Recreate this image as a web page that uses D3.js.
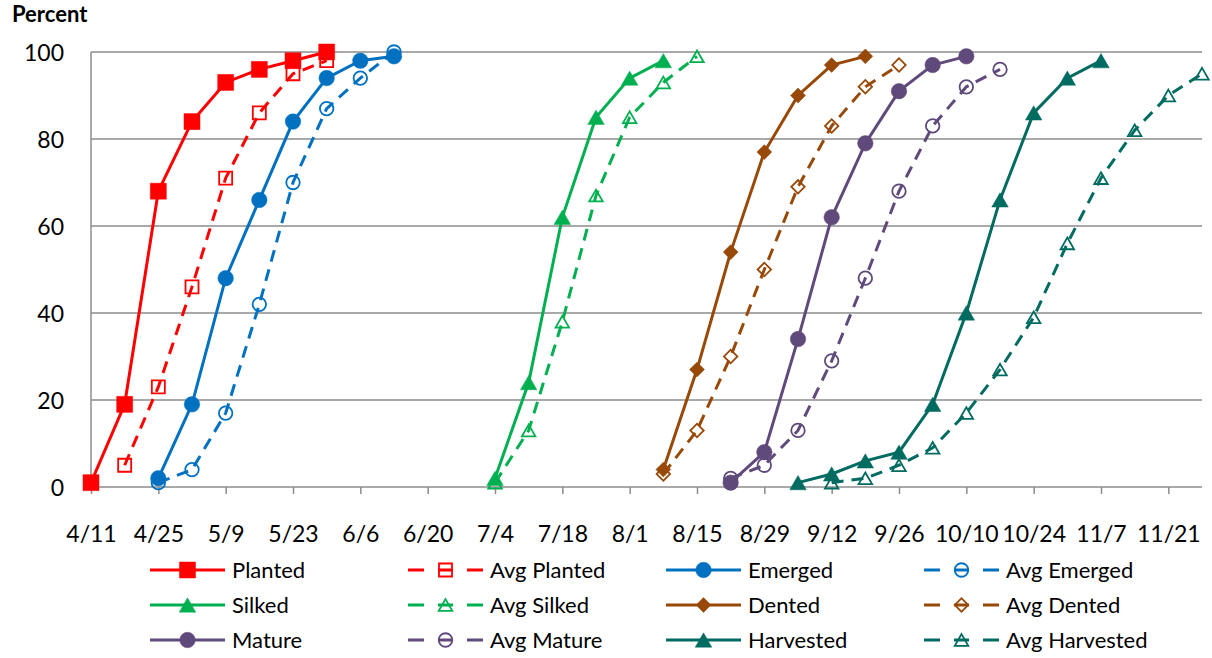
<!DOCTYPE html>
<html>
<head>
<meta charset="utf-8">
<script src="https://cdn.jsdelivr.net/npm/d3@7"></script>
<style>
  body { margin: 0; background: #fff; }
  text { font-family: Lato, "Open Sans", sans-serif; fill: #000; }
</style>
</head>
<body>
<div id="chart"></div>
<script>
// weekly report dates
var weeks = ["4/11","4/18","4/25","5/2","5/9","5/16","5/23","5/30","6/6","6/13","6/20","6/27",
             "7/4","7/11","7/18","7/25","8/1","8/8","8/15","8/22","8/29","9/5","9/12","9/19",
             "9/26","10/3","10/10","10/17","10/24","10/31","11/7","11/14","11/21","11/28"];
var tickLabels = ["4/11","4/25","5/9","5/23","6/6","6/20","7/4","7/18","8/1","8/15","8/29",
                  "9/12","9/26","10/10","10/24","11/7","11/21"];
var yTicks = [0, 20, 40, 60, 80, 100];

var _ = null;
// percent complete, aligned with weeks (null = no report)
var planted      = [1,19,68,84,93,96,98,100];
var avgPlanted   = [_,5,23,46,71,86,95,98];
var emerged      = [_,_,2,19,48,66,84,94,98,99];
var avgEmerged   = [_,_,1,4,17,42,70,87,94,100];
var silked       = [_,_,_,_,_,_,_,_,_,_,_,_,2,24,62,85,94,98];
var avgSilked    = [_,_,_,_,_,_,_,_,_,_,_,_,1,13,38,67,85,93,99];
var dented       = [_,_,_,_,_,_,_,_,_,_,_,_,_,_,_,_,_,4,27,54,77,90,97,99];
var avgDented    = [_,_,_,_,_,_,_,_,_,_,_,_,_,_,_,_,_,3,13,30,50,69,83,92,97];
var mature       = [_,_,_,_,_,_,_,_,_,_,_,_,_,_,_,_,_,_,_,1,8,34,62,79,91,97,99];
var avgMature    = [_,_,_,_,_,_,_,_,_,_,_,_,_,_,_,_,_,_,_,2,5,13,29,48,68,83,92,96];
var harvested    = [_,_,_,_,_,_,_,_,_,_,_,_,_,_,_,_,_,_,_,_,_,1,3,6,8,19,40,66,86,94,98];
var avgHarvested = [_,_,_,_,_,_,_,_,_,_,_,_,_,_,_,_,_,_,_,_,_,_,1,2,5,9,17,27,39,56,71,82,90,95];

var series = [
  {name: "Planted",        values: planted,      color: "#FF0000", avg: false, shape: "square"},
  {name: "Avg Planted",    values: avgPlanted,   color: "#FF0000", avg: true,  shape: "square"},
  {name: "Emerged",        values: emerged,      color: "#0070C0", avg: false, shape: "circle"},
  {name: "Avg Emerged",    values: avgEmerged,   color: "#0070C0", avg: true,  shape: "circle"},
  {name: "Silked",         values: silked,       color: "#00B050", avg: false, shape: "triangle"},
  {name: "Avg Silked",     values: avgSilked,    color: "#00B050", avg: true,  shape: "triangle"},
  {name: "Dented",         values: dented,       color: "#984807", avg: false, shape: "diamond"},
  {name: "Avg Dented",     values: avgDented,    color: "#984807", avg: true,  shape: "diamond"},
  {name: "Mature",         values: mature,       color: "#604A7B", avg: false, shape: "circle"},
  {name: "Avg Mature",     values: avgMature,    color: "#604A7B", avg: true,  shape: "circle"},
  {name: "Harvested",      values: harvested,    color: "#006B60", avg: false, shape: "triangle"},
  {name: "Avg Harvested",  values: avgHarvested, color: "#006B60", avg: true,  shape: "triangle"}
];

var W = 1212, H = 658;
var margin = {top: 52, right: 10, bottom: 171, left: 91};
var width = W - margin.left - margin.right,
    height = H - margin.top - margin.bottom;

var parse = function(s) { return d3.utcParse("%m/%d/%Y")(s + "/2019"); };

var svg = d3.select("#chart").append("svg")
    .attr("width", W).attr("height", H);
var g = svg.append("g")
    .attr("transform", "translate(" + margin.left + "," + margin.top + ")");

var x = d3.scaleUtc()
    .domain([parse("4/11"), parse("11/28")])
    .range([0, width]);
var y = d3.scaleLinear().domain([0, 100]).range([height, 0]);

// gridlines
g.append("g").selectAll("line")
    .data(yTicks).enter().append("line")
    .attr("x1", 0).attr("x2", width)
    .attr("y1", function(d) { return y(d); })
    .attr("y2", function(d) { return y(d); })
    .attr("stroke", "#8c8c8c").attr("stroke-width", 1.5);

// y axis line + labels
g.append("line").attr("x1", 0).attr("x2", 0).attr("y1", 0).attr("y2", height)
    .attr("stroke", "#8c8c8c").attr("stroke-width", 1.5);
g.append("g").selectAll("text")
    .data(yTicks).enter().append("text")
    .attr("x", -27).attr("y", function(d) { return y(d); })
    .attr("dy", "0.38em").attr("text-anchor", "end")
    .style("font-size", "23px")
    .text(function(d) { return d; });

// x axis
var xAxis = d3.axisBottom(x)
    .tickValues(tickLabels.map(parse))
    .tickSize(7)
    .tickFormat(function(d, i) { return tickLabels[i]; });
var xg = g.append("g").attr("transform", "translate(0," + height + ")").call(xAxis);
xg.select(".domain").remove();
xg.selectAll("line").attr("stroke", "#8c8c8c").attr("stroke-width", 1.5);
xg.selectAll("text").attr("y", 55).attr("dy", null)
    .attr("font-family", null).attr("font-size", null)
    .style("font-size", "23px");

// title
svg.append("text").attr("x", 12).attr("y", 22)
    .style("font-size", "22px").style("font-weight", "bold")
    .text("Percent");

// Excel-like markers: px sizes, hollow ones have no fill
function marker(sel, s) {
  var sym, dy = 0, rot = "";
  if (s.shape === "square") {
    var a = s.avg ? 13 : 16;
    sym = d3.symbol().type(d3.symbolSquare).size(a * a);
  } else if (s.shape === "circle") {
    var dmt = s.avg ? 13.5 : 15.5;
    sym = d3.symbol().type(d3.symbolCircle).size(Math.PI * dmt * dmt / 4);
  } else if (s.shape === "triangle") {
    var t = s.avg ? 13.5 : 16.5;
    sym = d3.symbol().type(d3.symbolTriangle).size(Math.sqrt(3) / 4 * t * t);
    dy = t * Math.sqrt(3) / 2 / 6;
  } else {
    var sd = s.avg ? 9.5 : 10.5;
    sym = d3.symbol().type(d3.symbolSquare).size(sd * sd);
    rot = " rotate(45)";
  }
  sel.attr("d", sym)
    .attr("transform", function() {
      return (d3.select(this).attr("transform") || "") + " translate(0," + dy + ")" + rot;
    })
    .attr("fill", s.avg ? "none" : s.color)
    .attr("stroke", s.color)
    .attr("stroke-width", s.avg ? 1.8 : 0.5);
}

var line = d3.line()
    .defined(function(d) { return d.v != null; })
    .x(function(d) { return x(d.date); })
    .y(function(d) { return y(d.v); });

series.forEach(function(s) {
  var pts = weeks.map(function(w, i) {
    return {date: parse(w), v: s.values[i] == null ? null : s.values[i]};
  });
  var sg = g.append("g");
  sg.append("path").datum(pts)
    .attr("fill", "none")
    .attr("stroke", s.color)
    .attr("stroke-width", 3)
    .attr("stroke-dasharray", s.avg ? "12,8" : null)
    .attr("d", line);
  sg.selectAll("path.pt")
    .data(pts.filter(function(d) { return d.v != null; }))
    .enter().append("path").attr("class", "pt")
    .attr("transform", function(d) { return "translate(" + x(d.date) + "," + y(d.v) + ")"; })
    .call(marker, s);
});

// legend
var colX = [150, 408, 666, 924], rowY = [570, 605, 640];
series.forEach(function(s, i) {
  var lx = colX[i % 4], ly = rowY[Math.floor(i / 4)];
  var lg = svg.append("g").attr("transform", "translate(" + lx + "," + ly + ")");
  lg.append("line").attr("x1", 0).attr("x2", 75).attr("y1", 0).attr("y2", 0)
    .attr("stroke", s.color).attr("stroke-width", 3)
    .attr("stroke-dasharray", s.avg ? "16,14,15,14,16" : null);
  lg.append("path").attr("transform", "translate(37.5,0)").call(marker, s);
  lg.append("text").attr("x", 82).attr("y", 0).attr("dy", "0.36em")
    .style("font-size", "22px").text(s.name);
});
</script>
</body>
</html>
